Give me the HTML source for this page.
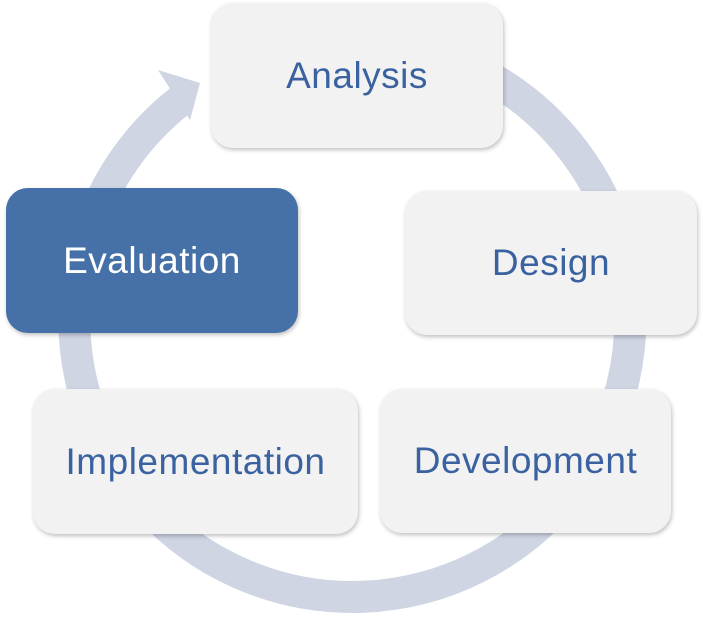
<!DOCTYPE html>
<html><head><style>
body{margin:0;width:703px;height:627px;background:#fff;position:relative;overflow:hidden;font-family:"Liberation Sans",sans-serif}
.b{position:absolute;background:#f2f2f2;border-radius:22px;box-shadow:1px 2px 4px rgba(0,0,0,0.25);display:flex;align-items:center;justify-content:center;color:#3b62a0;font-size:37px;letter-spacing:0.5px}
</style></head><body>
<svg width="703" height="627" style="position:absolute;left:0;top:0">
<path d="M 491 78 A 278 278 0 1 1 181 100" fill="none" stroke="#cfd5e3" stroke-width="32"/>
<polygon points="158,70 200,83 190,120" fill="#cfd5e3"/>
</svg>
<div class="b" style="left:211px;top:3px;width:292px;height:145px">Analysis</div>
<div class="b" style="left:405px;top:191px;width:292px;height:144px">Design</div>
<div class="b" style="left:380px;top:389px;width:291px;height:144px">Development</div>
<div class="b" style="left:33px;top:389px;width:325px;height:145px">Implementation</div>
<div class="b" style="left:6px;top:188px;width:292px;height:145px;background:#4571a8;color:#fff">Evaluation</div>
</body></html>
